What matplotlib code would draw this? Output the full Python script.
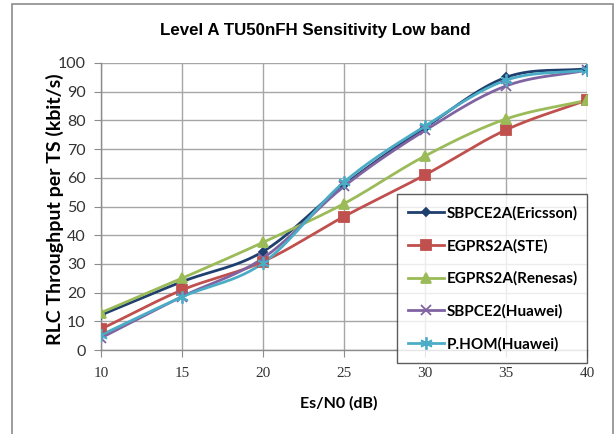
import numpy as np
import matplotlib
matplotlib.use("Agg")
import matplotlib.pyplot as plt
from matplotlib.patches import Rectangle

# Es/N0 points (dB) and measured throughput per series (kbit/s)
esn0 = [10, 15, 20, 25, 30, 35, 40]
sbpce2a_ericsson = [12.2, 23.8, 34.3, 57.5, 77.5, 95.0, 98.0]
egprs2a_ste = [7.3, 20.9, 30.8, 46.5, 61.0, 76.7, 87.1]
egprs2a_renesas = [13.0, 25.0, 37.5, 51.0, 67.6, 80.5, 87.0]
sbpce2_huawei = [4.2, 18.6, 32.0, 57.0, 76.5, 92.0, 97.5]
phom_huawei = [5.2, 18.5, 30.3, 58.5, 78.0, 94.0, 97.5]

labels = ["SBPCE2A(Ericsson)", "EGPRS2A(STE)", "EGPRS2A(Renesas)",
          "SBPCE2(Huawei)", "P.HOM(Huawei)"]
series = [sbpce2a_ericsson, egprs2a_ste, egprs2a_renesas, sbpce2_huawei, phom_huawei]
colors = ["#1F3F6E", "#C0504D", "#9BBB59", "#8064A2", "#4BACC6"]
markers = ["D", "s", "^", "x", (6, 2, 0)]
msizes = [4, 7, 7, 7, 9]

xticks = [10, 15, 20, 25, 30, 35, 40]
yticks = list(range(0, 101, 10))


def smooth(x, y, n=30, tension=0.5):
    """Cardinal spline through the points, drawn like a smoothed line chart."""
    x = np.asarray(x, float)
    y = np.asarray(y, float)
    px = np.concatenate([[2 * x[0] - x[1]], x, [2 * x[-1] - x[-2]]])
    py = np.concatenate([[2 * y[0] - y[1]], y, [2 * y[-1] - y[-2]]])
    xs, ys = [], []
    t = np.linspace(0, 1, n)
    for i in range(1, len(px) - 2):
        m1x = tension * (px[i + 1] - px[i - 1])
        m1y = tension * (py[i + 1] - py[i - 1])
        m2x = tension * (px[i + 2] - px[i])
        m2y = tension * (py[i + 2] - py[i])
        h00 = 2 * t**3 - 3 * t**2 + 1
        h10 = t**3 - 2 * t**2 + t
        h01 = -2 * t**3 + 3 * t**2
        h11 = t**3 - t**2
        xs.append(h00 * px[i] + h10 * m1x + h01 * px[i + 1] + h11 * m2x)
        ys.append(h00 * py[i] + h10 * m1y + h01 * py[i + 1] + h11 * m2y)
    return np.concatenate(xs), np.concatenate(ys)


fig = plt.figure(figsize=(6.15, 4.34), dpi=100)
fig.patches.append(Rectangle((12 / 615, -0.01), 601 / 615, 1 - 4 / 434 + 0.01,
                             transform=fig.transFigure, fill=False,
                             edgecolor="#8C8C8C", linewidth=1.2))

ax = fig.add_axes([101 / 615, 1 - 350 / 434, 486 / 615, 287 / 434])

handles = []
for ys, c, m, ms, lab in zip(series, colors, markers, msizes, labels):
    sx, sy = smooth(esn0, ys)
    ax.plot(sx, sy, color=c, linewidth=2, zorder=3)
    ax.plot(esn0, ys, linestyle="none", marker=m, markersize=ms, color=c,
            markeredgecolor=c, markeredgewidth=1.3, zorder=4)
    h, = ax.plot([], [], color=c, linewidth=2, marker=m, markersize=ms,
                 markeredgecolor=c, markeredgewidth=1.3)
    handles.append(h)

ax.set_xlim(10, 40)
ax.set_ylim(0, 100)
ax.set_xticks(xticks)
ax.set_yticks(yticks)
ax.grid(True, color="#A6A6A6", linewidth=1)
ax.set_axisbelow(True)
for s in ["top", "right"]:
    ax.spines[s].set_visible(False)
for s in ["left", "bottom"]:
    ax.spines[s].set_color("#8C8C8C")
    ax.spines[s].set_linewidth(1)
ax.tick_params(axis="both", direction="out", length=5, color="#8C8C8C",
               labelcolor="#333333")
ax.tick_params(axis="x", labelsize=11, pad=7)
ax.tick_params(axis="y", labelsize=11.5, pad=6)
for lbl in ax.get_xticklabels():
    lbl.set_family("Liberation Serif")
for lbl in ax.get_yticklabels():
    lbl.set_family("Lato")

fig.text(315 / 615, 1 - 30 / 434, "Level A TU50nFH Sensitivity Low band",
         fontsize=12.2, fontweight="bold", family="Liberation Sans",
         ha="center", va="center")
fig.text(55 / 615, 1 - 209 / 434, "RLC Throughput per TS (kbit/s)",
         fontsize=14, fontweight="bold", family="Lato", rotation=90,
         ha="center", va="center")
fig.text(339 / 615, 1 - 403 / 434, "Es/N0 (dB)", fontsize=11.5,
         fontweight="bold", family="Lato", ha="center", va="center")

leg = fig.legend(handles, labels, loc="lower left",
                 bbox_to_anchor=(397 / 615, 1 - 363 / 434, 190 / 615, 167 / 434),
                 mode="expand", frameon=True, fancybox=False,
                 prop={"family": "Lato", "weight": "bold", "size": 11},
                 labelspacing=1.2, handlelength=2.3, handletextpad=0.2,
                 borderaxespad=0, borderpad=0.75)
leg.get_frame().set_edgecolor("#333333")
leg.get_frame().set_linewidth(1)

fig.savefig("out.png", dpi=100)
